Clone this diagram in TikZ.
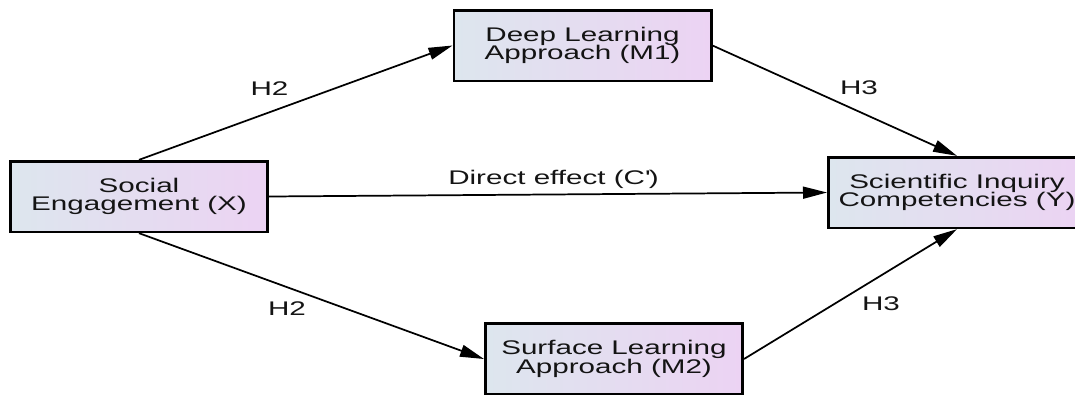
\documentclass[tikz,border=0pt]{standalone}
\usepackage{fontspec}
\setmainfont{Liberation Sans}[FakeStretch=1.5]
\usetikzlibrary{arrows.meta}
\definecolor{boxleft}{RGB}{221,230,238}
\definecolor{boxright}{RGB}{236,211,243}
\definecolor{inktext}{RGB}{20,20,20}
\tikzset{
	varbox/.style={draw=black, line width=2pt, left color=boxleft, right color=boxright,
		minimum width=193pt, minimum height=53pt, align=center, text=inktext,
		font=\fontsize{14.8}{14}\selectfont},
	effect/.style={line width=1.3pt, -{Triangle[length=18pt,width=9pt]}},
	hyplabel/.style={text=inktext, font=\fontsize{14.8}{14}\selectfont}
}

\begin{document}
\begin{tikzpicture}[x=0.75pt, y=-0.75pt]
				\path[use as bounding box, clip] (0,0) rectangle (1075,394);
				
				\node[varbox] (socx) at (139,196.5) {Social\\Engagement (X)};
				\node[varbox] (deepm) at (582.5,45.5) {Deep Learning\\Approach (M1)};
				\node[varbox] (surfm) at (614,359) {Surface Learning\\Approach (M2)};
				\node[varbox] (sciy) at (957,192.5) {Scientific Inquiry\\Competencies (Y)};
				
				\draw[effect] (socx.north) -- (deepm.west);
				\draw[effect] (deepm.east) -- (sciy.north);
				\draw[effect] (socx.east) -- (sciy.west);
				\draw[effect] (socx.south) -- (surfm.west);
				\draw[effect] (surfm.east) -- (sciy.south);
				
				\node[hyplabel] (htwoup) at (269.5,89) {H2};
				\node[hyplabel] (hthreeup) at (859,88) {H3};
				\node[hyplabel] (direct) at (553.5,179) {Direct effect (C\textquotesingle)};
				\node[hyplabel] (htwodown) at (287,309) {H2};
				\node[hyplabel] (hthreedown) at (881,304) {H3};
\end{tikzpicture}
\end{document}
